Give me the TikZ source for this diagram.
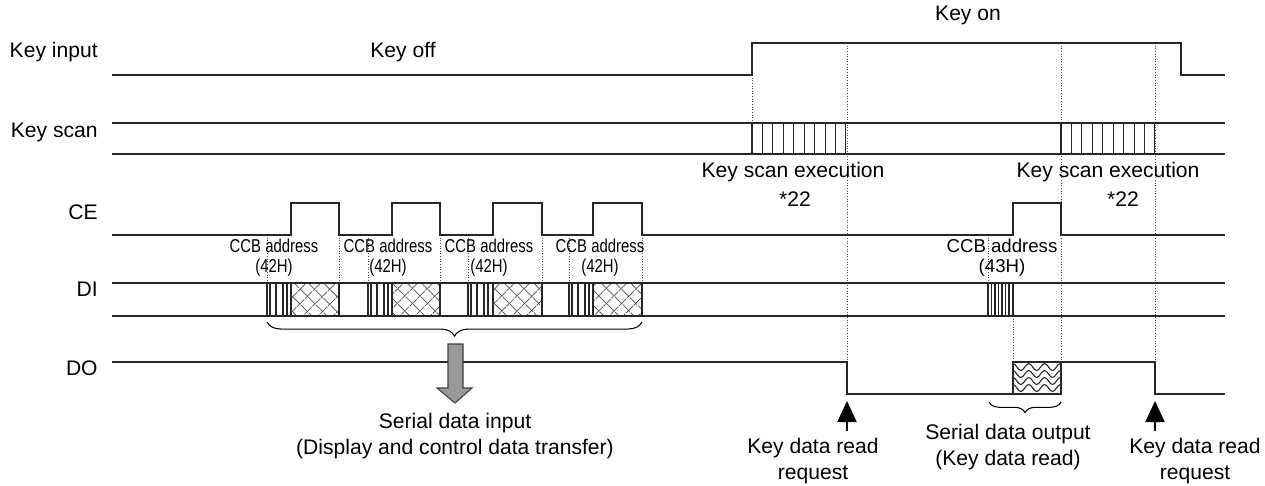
\documentclass[tikz,border=0pt]{standalone}
\usepackage{fontspec}
\setmainfont{Liberation Sans}
\usepackage{graphicx}
\usetikzlibrary{positioning,arrows.meta,patterns.meta,decorations.pathreplacing,decorations.pathmorphing}
\newcommand{\narrowtxt}[1]{\scalebox{0.8}[1]{#1}}

\begin{document}
\begin{tikzpicture}[
  x=0.02cm, y=-0.02cm,
  font=\fontsize{12}{14.7}\selectfont,
  signal/.style={line width=0.75pt, black!85},
  stripe/.style={line width=0.6pt, black!85},
  guide/.style={densely dotted, line width=0.5pt, black!70},
  lbl/.style={anchor=east, inner sep=0pt},
  note/.style={align=center, inner sep=0pt},
  addr/.style={note, font=\fontsize{10.6}{11.3}\selectfont},
  hatch/.style={pattern={Lines[angle=#1, distance=6.5pt, line width=0.55pt]}, pattern color=black!80},
  keyarrow/.style={line width=0.75pt, -{Triangle[length=12pt, width=11pt]}},
  underbrace/.style={decorate, decoration={brace, mirror, amplitude=#1}, line width=0.6pt},
]
\path[use as bounding box, fill=white] (0,0) rectangle (1265,485);

% signal names
\node[lbl] (nkeyin) at (98,52) {Key input};
\node[lbl] (nkeyscan) at (98,132) {Key scan};
\node[lbl] (nce) at (98,212) {CE};
\node[lbl] (ndi) at (98,289) {DI};
\node[lbl] (ndo) at (98,368) {DO};

% guides
\draw[guide] (752,75) -- (752,123);
\draw[guide] (847,43) -- (847,362);
\draw[guide] (1061,43) -- (1061,362);
\draw[guide] (1155,43) -- (1155,362);
\draw[guide] (988,235) -- (988,283);
\draw[guide] (1013,316) -- (1013,362);
\foreach \s/\b in {267/339,368/440,468/542,569/642}
  \draw[guide] (\s,235) -- (\s,283) (\b,235) -- (\b,283);

% Key input
\draw[signal] (112,75) -- (752,75) -- (752,43) -- (1181,43) -- (1181,75) -- (1225,75);
\node (keyoff) at (403,52) {Key off};
\node (keyon) at (968,15) {Key on};

% Key scan
\draw[signal] (112,123) -- (1225,123) (112,154) -- (1225,154);
\foreach \s in {752,1061}
  \foreach \i in {0,...,9}
    \draw[stripe] (\s+\i*10.44,123) -- ++(0,31);
\node (exec1) at (793,172) {Key scan execution};
\node (ref1) at (795,199) {*22};
\node (exec2) at (1108,172) {Key scan execution};
\node (ref2) at (1123,199) {*22};

% CE
\draw[signal] (112,235)
  foreach \a/\b in {291/339,392/440,493/542,593/642,1013/1061} { -- (\a,235) -- (\a,203) -- (\b,203) -- (\b,235) }
  -- (1225,235);

% DI
\draw[signal] (112,283) -- (1225,283) (112,316) -- (1225,316);
\foreach \s/\a/\b in {267/291/339,368/392/440,468/493/542,569/593/642} {
  \foreach \o in {0,3,9,16,20}
    \draw[stripe] (\s+\o,283) -- ++(0,33);
  \path[hatch=45] (\a,283) rectangle (\b,316);
  \path[hatch=-45] (\a,283) rectangle (\b,316);
  \draw[signal] (\a,283) rectangle (\b,316);
}
\foreach \o in {0,3.5,...,24.5}
  \draw[stripe] (988+\o,283) -- ++(0,33);
\draw[signal] (988,283) rectangle (1013,316);

\node[addr] (ccb1) at (274,258) {\narrowtxt{CCB address}\\\narrowtxt{(42H)}};
\node[addr] (ccb2) at (388,258) {\narrowtxt{CCB address}\\\narrowtxt{(42H)}};
\node[addr] (ccb3) at (489,258) {\narrowtxt{CCB address}\\\narrowtxt{(42H)}};
\node[addr] (ccb4) at (600,258) {\narrowtxt{CCB address}\\\narrowtxt{(42H)}};
\node[addr] (ccb5) at (1002,258) {CCB address\\(43H)};

% DO
\draw[signal] (112,362) -- (847,362) -- (847,394) -- (1013,394)
  (1061,362) -- (1155,362) -- (1155,394) -- (1225,394);
\begin{scope}
  \clip (1013,362) rectangle (1061,394);
  \foreach \y in {367,374,381,388}
    \draw[stripe, decorate, decoration={snake, amplitude=2pt, segment length=9pt}] (1008,\y) -- (1068,\y);
\end{scope}
\draw[signal] (1013,362) rectangle (1061,394);

% serial data input
\coordinate (brin1) at (267,322);
\coordinate (brin2) at (642,322);
\draw[underbrace=8pt] (brin1) -- (brin2);
\filldraw[fill=black!40, draw=black!75, line width=0.6pt]
  (448,344) -- (463,344) -- (463,388) -- (472,388) -- (455,403) -- (437,388) -- (448,388) -- cycle;
\node[note] (serin) at (455,436) {Serial data input\\(Display and control data transfer)};

% serial data output
\coordinate (brout1) at (989,402);
\coordinate (brout2) at (1061,402);
\draw[underbrace=6pt] (brout1) -- (brout2);
\node[note] (serout) at (1008,447) {Serial data output\\(Key data read)};

% read requests
\coordinate (req1) at (847,431);
\coordinate (tip1) at (847,401);
\coordinate (req2) at (1155,431);
\coordinate (tip2) at (1155,401);
\draw[keyarrow] (req1) -- (tip1);
\draw[keyarrow] (req2) -- (tip2);
\node[note] (read1) at (813,461) {Key data read\\request};
\node[note] (read2) at (1195,461) {Key data read\\request};
\end{tikzpicture}
\end{document}
